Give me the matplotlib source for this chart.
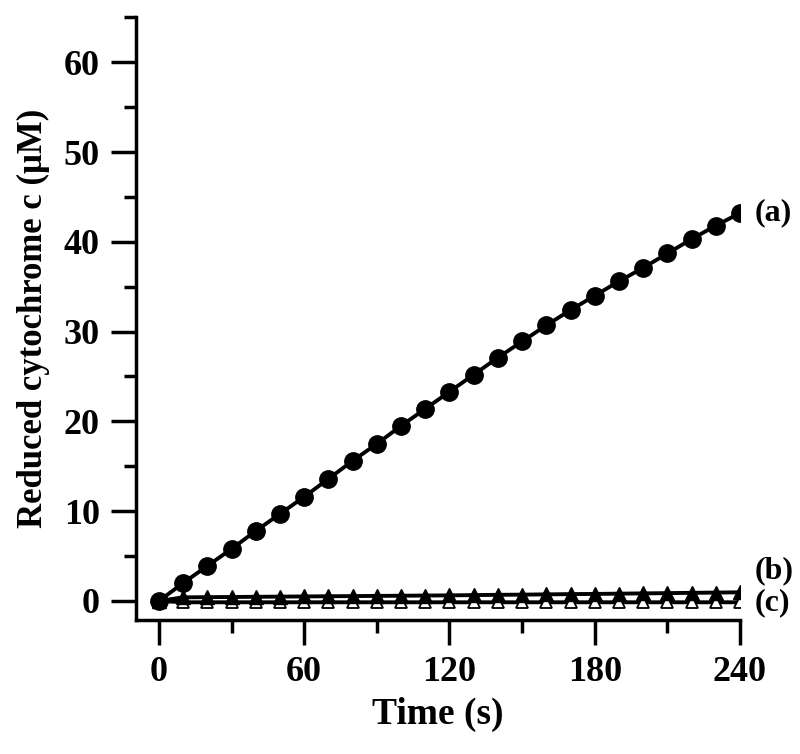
import matplotlib.pyplot as plt
import numpy as np

plt.rcParams['font.family'] = ['Liberation Serif', 'DejaVu Serif']
plt.rcParams['font.weight'] = 'bold'

# data
t = [0, 10, 20, 30, 40, 50, 60, 70, 80, 90, 100, 110, 120,
     130, 140, 150, 160, 170, 180, 190, 200, 210, 220, 230, 240]
a = [0.0, 2.0, 3.9, 5.8, 7.8, 9.7, 11.6, 13.6, 15.6, 17.5, 19.5, 21.4, 23.3,
     25.2, 27.1, 28.9, 30.7, 32.4, 34.0, 35.6, 37.1, 38.7, 40.3, 41.8, 43.2]
b = [0.0, 0.4, 0.42, 0.44, 0.46, 0.48, 0.5, 0.52, 0.54, 0.56, 0.58, 0.6, 0.62,
     0.65, 0.68, 0.7, 0.73, 0.76, 0.78, 0.81, 0.84, 0.87, 0.9, 0.93, 0.96]
c = [0.0, -0.15, -0.15, -0.15, -0.15, -0.15, -0.15, -0.15, -0.15, -0.15, -0.15, -0.15, -0.15,
     -0.15, -0.15, -0.15, -0.15, -0.15, -0.15, -0.15, -0.15, -0.15, -0.15, -0.15, -0.15]
labels = ['(a)', '(b)', '(c)']
label_y = [43.2, 3.4, -0.2]

fig = plt.figure(figsize=(8, 7.54), dpi=100)
ax = fig.add_axes([0.17, 0.178, 0.755, 0.799])

ax.plot(t, c, color='black', lw=2.8, marker='^', ms=9, mfc='white', mec='black', mew=1.3)
ax.plot(t, b, color='black', lw=2.8, marker='^', ms=10, mfc='black', mec='black')
ax.plot(t, a, color='black', lw=2.8, marker='o', ms=12.5, mfc='black', mec='black')

for lab, ly in zip(labels, label_y):
    ax.text(246, ly, lab, fontsize=23, fontweight='bold', va='center', ha='left', clip_on=False)

ax.set_xlim(-9.5, 240)
ax.set_ylim(-2.1, 65)
ax.set_xticks([0, 60, 120, 180, 240])
ax.set_xticks([30, 90, 150, 210], minor=True)
ax.set_yticks([0, 10, 20, 30, 40, 50, 60])
ax.set_yticks([5, 15, 25, 35, 45, 55, 65], minor=True)

ax.spines['top'].set_visible(False)
ax.spines['right'].set_visible(False)
ax.spines['left'].set_linewidth(2.5)
ax.spines['bottom'].set_linewidth(2.5)
ax.tick_params(which='major', direction='out', length=18, width=2.5, labelsize=26, pad=8)
ax.tick_params(which='minor', direction='out', length=9, width=2.5)
for lbl in ax.get_xticklabels() + ax.get_yticklabels():
    lbl.set_fontweight('bold')

ax.set_xlabel('Time (s)', fontsize=27, fontweight='bold', labelpad=6)
ax.set_ylabel('Reduced cytochrome c (μM)', fontsize=25, fontweight='bold', labelpad=10)

fig.savefig('out.png', dpi=100)
